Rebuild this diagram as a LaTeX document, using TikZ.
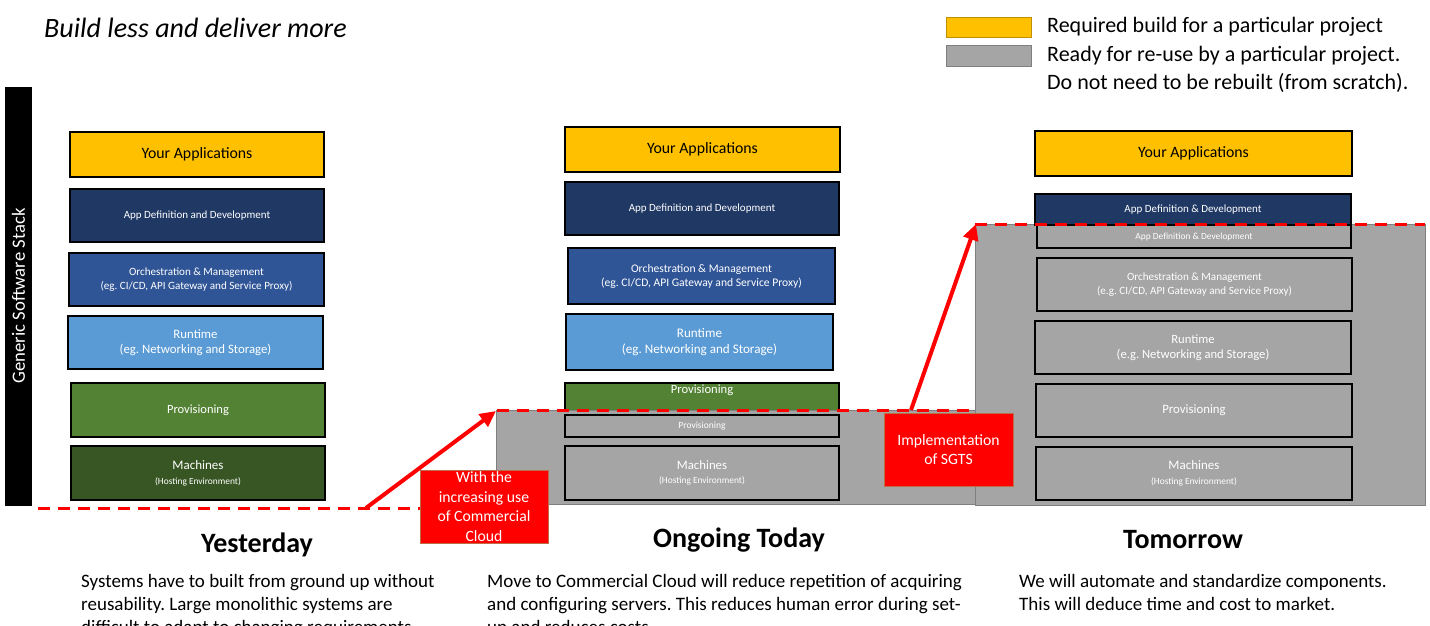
\documentclass[tikz,border=0pt]{standalone}
\usepackage{fontspec}
\setmainfont{Carlito}
\usetikzlibrary{arrows.meta}
\definecolor{cyellow}{HTML}{FFC000}
\definecolor{cnavy}{HTML}{203864}
\definecolor{cblue}{HTML}{2F5597}
\definecolor{clight}{HTML}{5B9BD5}
\definecolor{cgreen}{HTML}{548235}
\definecolor{cdkgreen}{HTML}{375623}
\definecolor{cgray}{HTML}{A5A5A5}
\definecolor{cgrayline}{HTML}{7F7F7F}
\definecolor{cred}{HTML}{FF0000}
\definecolor{credline}{RGB}{190,110,70}
\definecolor{cyline}{HTML}{BF9000}
\newcommand\myfs[2]{\fontsize{#1}{#2}\selectfont}
\frenchspacing
\tikzset{
  sbox/.style={draw=black, line width=1.3pt, inner sep=0pt, outer sep=0pt, anchor=north west, align=center, text=white},
  region/.style={fill=cgray, draw=cgrayline, line width=0.8pt, inner sep=0pt, outer sep=0pt, anchor=north west},
  redbox/.style={fill=cred, draw=credline, line width=1pt, inner sep=0pt, outer sep=0pt, anchor=north west, align=center, text=white, font=\myfs{15.7}{19.5}},
  legbox/.style={line width=0.8pt, inner sep=0pt, outer sep=0pt, anchor=north west},
  legtext/.style={anchor=west, inner sep=0pt, font=\myfs{22}{26}},
  heading/.style={inner sep=0pt, font=\bfseries\myfs{28}{32}},
  body/.style={anchor=north west, inner sep=0pt, align=left, font=\myfs{19}{23}},
  reddash/.style={draw=cred, line width=3pt, dash pattern=on 12pt off 8pt},
  redarrow/.style={draw=cred, line width=4pt, -{Triangle[length=16pt,width=15pt]}},
}
\begin{document}
\begin{tikzpicture}[x=1pt,y=-1pt]
\useasboundingbox (0,0) rectangle (1430,625);
\begin{scope}
\clip (0,0) rectangle (1430,625);
% title
\node[anchor=west, inner sep=0pt, font=\itshape\myfs{28}{32}] (title) at (44,28) {Build less and deliver more};
% legend
\node[legbox, fill=cyellow, draw=cyline, minimum width=85pt, minimum height=20pt] (lg1) at (946,17) {};
\node[legbox, fill=cgray, draw=cgrayline, minimum width=85pt, minimum height=21pt] (lg2) at (946,45) {};
\node[legtext] (lt1) at (1047,27) {Required build for a particular project};
\node[legtext] (lt2) at (1047,56) {Ready for re-use by a particular project.};
\node[legtext] (lt3) at (1047,83) {Do not need to be rebuilt (from scratch).};
% vertical bar
\node[fill=black, inner sep=0pt, minimum width=27pt, minimum height=419pt, anchor=north west] (bar) at (5,87) {};
\node[text=white, rotate=90, inner sep=0pt, font=\myfs{18.7}{22}] (barlbl) at (18.5,296) {Generic Software Stack};
% Yesterday stack
\node[sbox, fill=cyellow, text=black, minimum width=254pt, minimum height=45pt, font=\myfs{15.8}{19}] (y1) at (70,132) {Your Applications};
\node[sbox, fill=cnavy, minimum width=254pt, minimum height=53pt, font=\myfs{11}{13}] (y2) at (70,189) {App Definition and Development};
\node[sbox, fill=cblue, minimum width=255pt, minimum height=53pt, font=\myfs{11.1}{13.5}] (y3) at (69,253) {Orchestration \& Management\\(eg. CI/CD, API Gateway and Service Proxy)};
\node[sbox, fill=clight, minimum width=255pt, minimum height=53pt, font=\myfs{12.8}{15.5}] (y4) at (68,316) {Runtime\\(eg. Networking and Storage)};
\node[sbox, fill=cgreen, minimum width=254pt, minimum height=54pt, font=\myfs{12.5}{14}] (y5) at (71,383) {Provisioning};
\node[sbox, fill=cdkgreen, minimum width=254pt, minimum height=54pt, font=\myfs{13}{15}] (y6) at (71,446) {Machines\\{\myfs{9.4}{11}(Hosting Environment)}};
% Ongoing today stack
\node[sbox, fill=cyellow, text=black, minimum width=275pt, minimum height=45pt, font=\myfs{15.8}{19}] (t1) at (565,127) {Your Applications};
\node[sbox, fill=cnavy, minimum width=274pt, minimum height=53pt, font=\myfs{11}{13}] (t2) at (565,182) {App Definition and Development};
\node[sbox, fill=cblue, minimum width=267pt, minimum height=56pt, font=\myfs{11.6}{14}] (t3) at (568,248) {Orchestration \& Management\\(eg. CI/CD, API Gateway and Service Proxy)};
\node[sbox, fill=clight, minimum width=267pt, minimum height=56pt, font=\myfs{13.1}{16}] (t4) at (566,314) {Runtime\\(eg. Networking and Storage)};
\node[sbox, fill=cgreen, minimum width=274pt, minimum height=32pt] (t5) at (565,383) {};
\node[text=white, inner sep=0pt, font=\myfs{12.6}{14}] (t5t) at (702,390) {Provisioning};
\node[region, minimum width=479pt, minimum height=94pt] (g1) at (496,410) {};
\node[sbox, fill=cgray, minimum width=274pt, minimum height=22pt, font=\myfs{9.5}{11}] (t6) at (565,415) {Provisioning};
\node[sbox, fill=cgray, minimum width=274pt, minimum height=54pt, font=\myfs{12.8}{14.5}] (t7) at (565,446) {Machines\\{\myfs{9.4}{11}(Hosting Environment)}};
% Tomorrow stack
\node[region, minimum width=450pt, minimum height=281pt] (g2) at (975,224) {};
\node[sbox, fill=cyellow, text=black, minimum width=317pt, minimum height=45pt, font=\myfs{15.8}{19}] (m1) at (1035,131) {Your Applications};
\node[sbox, fill=cnavy, minimum width=316pt, minimum height=31pt, font=\myfs{11}{13}] (m2) at (1035,194) {App Definition \& Development};
\node[sbox, fill=cgray, minimum width=314pt, minimum height=23pt, font=\myfs{9.4}{11}] (m3) at (1037,225) {App Definition \& Development};
\node[sbox, fill=cgray, minimum width=315pt, minimum height=53pt, font=\myfs{11.1}{13.5}] (m4) at (1037,258) {Orchestration \& Management\\(e.g. CI/CD, API Gateway and Service Proxy)};
\node[sbox, fill=cgray, minimum width=316pt, minimum height=53pt, font=\myfs{12.6}{15.5}] (m5) at (1035,321) {Runtime\\(e.g. Networking and Storage)};
\node[sbox, fill=cgray, minimum width=316pt, minimum height=53pt, font=\myfs{12.8}{14}] (m6) at (1036,384) {Provisioning};
\node[sbox, fill=cgray, minimum width=316pt, minimum height=53pt, font=\myfs{13}{14.5}] (m7) at (1036,447) {Machines\\{\myfs{9.4}{11}(Hosting Environment)}};
% dashed baselines
\coordinate (d0) at (38,508);
\coordinate (d1) at (497,508);
\coordinate (d2) at (497,410);
\coordinate (d3) at (975,410);
\coordinate (d4) at (975,224);
\coordinate (d5) at (1425,224);
\draw[reddash] (d0) -- (d1);
\draw[reddash] (d2) -- (d3);
\draw[reddash] (d4) -- (d5);
% red boxes
\node[redbox, minimum width=128pt, minimum height=73pt] (rb1) at (420,470) {With the\\increasing use\\of Commercial\\Cloud};
\node[redbox, minimum width=129pt, minimum height=73pt] (rb2) at (884,413) {Implementation\\of SGTS};
% arrows
\coordinate (a1s) at (366,508);
\coordinate (a1e) at (496,411);
\coordinate (a2s) at (911,410);
\coordinate (a2e) at (976,224);
\draw[redarrow] (a1s) -- (a1e);
\draw[redarrow] (a2s) -- (a2e);
% headings
\node[heading] (h1) at (257,545) {Yesterday};
\node[heading] (h2) at (739,540) {Ongoing Today};
\node[heading] (h3) at (1183,540) {Tomorrow};
% body texts
\node[body] (b1) at (81,574) {Systems have to built from ground up without\\reusability. Large monolithic systems are\\difficult to adapt to changing requirements.};
\node[body] (b2) at (487,574) {Move to Commercial Cloud will reduce repetition of acquiring\\and configuring servers. This reduces human error during set-\\up and reduces costs.};
\node[body] (b3) at (1019,574) {We will automate and standardize components.\\This will deduce time and cost to market.};
\end{scope}
\end{tikzpicture}
\end{document}
